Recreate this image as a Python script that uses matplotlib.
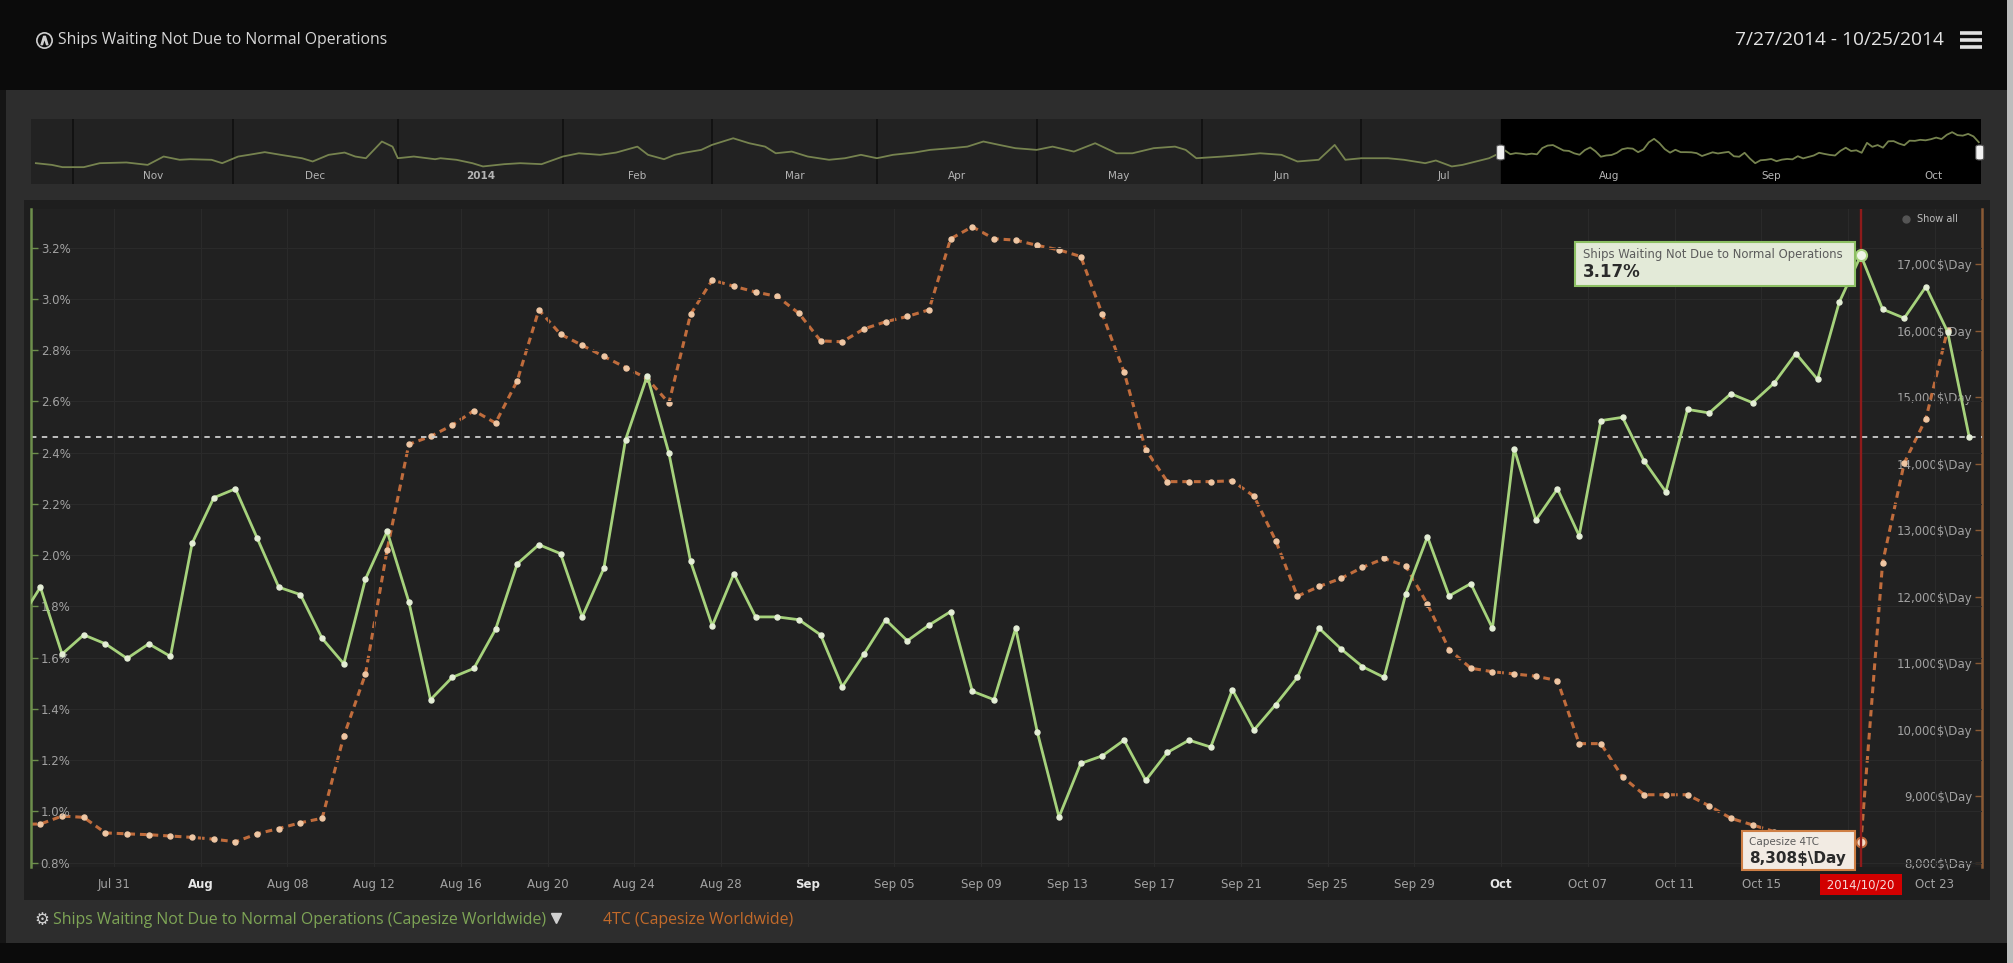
import numpy as np
import pandas as pd
import matplotlib
matplotlib.use("Agg")
import matplotlib.pyplot as plt
import matplotlib.dates as mdates
from matplotlib.patches import Rectangle, FancyBboxPatch
from matplotlib.lines import Line2D
from matplotlib import transforms

W, H = 2013, 963

# ---- values ----
dates = pd.date_range("2014-07-27", "2014-10-25", freq="D")

# Ships Waiting Not Due to Normal Operations (Capesize Worldwide), %
waiting_pct = [
    1.74,
    1.875, 1.614, 1.689, 1.654, 1.597, 1.654, 1.605,
    2.046, 2.224, 2.259, 2.067, 1.875, 1.846, 1.675,
    1.576, 1.907, 2.093, 1.818, 1.436, 1.523, 1.558,
    1.710, 1.966, 2.041, 2.006, 1.759, 1.949, 2.451,
    2.700, 2.398, 1.976, 1.724, 1.928, 1.759, 1.759,
    1.748, 1.689, 1.487, 1.614, 1.748, 1.666, 1.727,
    1.780, 1.469, 1.436, 1.715, 1.309, 0.978, 1.187,
    1.217, 1.278, 1.121, 1.230, 1.278, 1.251, 1.475,
    1.318, 1.417, 1.523, 1.715, 1.635, 1.565, 1.523,
    1.849, 2.072, 1.841, 1.889, 1.715, 2.416, 2.137,
    2.259, 2.076, 2.525, 2.538, 2.367, 2.247, 2.569,
    2.555, 2.630, 2.595, 2.672, 2.787, 2.686, 2.987,
    3.17, 2.960, 2.925, 3.048, 2.872, 2.46,
]

# 4TC (Capesize Worldwide), $/day
capesize_4tc = [
    8580,
    8581, 8702, 8682, 8448, 8434, 8421, 8401,
    8381, 8354, 8314, 8434, 8514, 8601, 8668,
    9904, 10840, 12710, 14294, 14414, 14581, 14802,
    14615, 15249, 16318, 15951, 15784, 15617, 15450,
    15283, 14915, 16251, 16766, 16672, 16586, 16519,
    16265, 15851, 15837, 16031, 16138, 16218, 16318,
    17387, 17568, 17387, 17367, 17287, 17220, 17120,
    16251, 15383, 14214, 13733, 13733, 13733, 13746,
    13512, 12844, 12009, 12156, 12276, 12443, 12577,
    12463, 11889, 11207, 10926, 10873, 10840, 10806,
    10739, 9791, 9791, 9290, 9022, 9022, 9022,
    8855, 8668, 8568, 8468, 8401, 8334, 8301,
    8308, 12510, 14013, 14681, 16018, np.nan,
]

# navigator (one year of the % series, before the selected window)
nav_start = pd.Timestamp("2013-10-25")
nav_days = [0, 3, 5, 9, 12, 17, 21, 24, 27, 29, 33, 35, 38, 40, 43, 46, 50, 52,
            55, 58, 60, 62, 65, 67, 68, 71, 75, 76, 79, 82, 84, 88, 91, 95, 99,
            102, 106, 109, 113, 115, 118, 120, 122, 125, 127, 131, 134, 137, 139,
            142, 145, 149, 152, 155, 158, 161, 165, 168, 172, 175, 178, 181, 184,
            188, 191, 195, 199, 203, 206, 210, 214, 216, 218, 223, 227, 230, 234,
            237, 241, 244, 246, 249, 254, 257, 261, 263, 266, 268, 273]
nav_pct = [0.98, 0.86, 0.70, 0.70, 0.98, 1.03, 0.86, 1.45, 1.22, 1.26, 1.22, 0.98,
           1.45, 1.57, 1.76, 1.57, 1.33, 1.10, 1.57, 1.73, 1.45, 1.33, 2.51, 2.15,
           1.33, 1.45, 1.26, 1.33, 1.22, 0.98, 0.75, 0.91, 0.98, 0.91, 1.45, 1.68,
           1.57, 1.73, 2.15, 1.57, 1.26, 1.57, 1.73, 1.92, 2.27, 2.74, 2.39, 2.15,
           1.68, 1.80, 1.45, 1.22, 1.33, 1.57, 1.33, 1.57, 1.73, 1.92, 2.04, 2.15,
           2.51, 2.27, 2.04, 1.92, 2.15, 1.80, 2.39, 1.68, 1.68, 2.04, 2.15, 1.92,
           1.33, 1.45, 1.57, 1.68, 1.57, 1.10, 1.22, 2.27, 1.22, 1.33, 1.33, 1.22,
           0.98, 1.17, 0.75, 0.86, 1.33]
nav_months = pd.date_range("2013-11-01", "2014-10-01", freq="MS")
nav_labels = ["Nov", "Dec", "2014", "Feb", "Mar", "Apr", "May", "Jun", "Jul",
              "Aug", "Sep", "Oct"]

x_ticks = pd.date_range("2014-07-31", "2014-10-23", freq="4D")
# the Oct 19 label sits under the crosshair date box, so it is left blank
x_labels = ["Jul 31", "Aug", "Aug 08", "Aug 12", "Aug 16", "Aug 20", "Aug 24",
            "Aug 28", "Sep", "Sep 05", "Sep 09", "Sep 13", "Sep 17", "Sep 21",
            "Sep 25", "Sep 29", "Oct", "Oct 07", "Oct 11", "Oct 15", "",
            "Oct 23"]
bold_labels = ["Aug", "Sep", "Oct"]
pct_ticks = [0.8, 1.0, 1.2, 1.4, 1.6, 1.8, 2.0, 2.2, 2.4, 2.6, 2.8, 3.0, 3.2]
usd_ticks = [8000, 9000, 10000, 11000, 12000, 13000, 14000, 15000, 16000, 17000]

sel_day = pd.Timestamp("2014-10-20")
view_from = pd.Timestamp("2014-07-27 04:00")
view_to = pd.Timestamp("2014-10-25 04:30")

GREEN = "#a6d27c"
GREEN_DOT = "#e4eed6"
ORANGE = "#c06c3c"
ORANGE_DOT = "#efc7a4"
LABEL = "#a2a2a2"


def frect(x0, y0, x1, y1):
    # pixel box (top-left origin) -> figure fraction
    return [x0 / W, 1 - y1 / H, (x1 - x0) / W, (y1 - y0) / H]


def band(x0, y0, x1, y1, color, z=-5):
    fig.add_artist(Rectangle((x0 / W, 1 - y1 / H), (x1 - x0) / W, (y1 - y0) / H,
                             transform=fig.transFigure, color=color, lw=0, zorder=z))


fig = plt.figure(figsize=(W / 100, H / 100), dpi=100, facecolor="#2d2d2d")
band(0, 0, W, 90, "#0b0b0b")
band(0, 943, W, H, "#0b0b0b")
band(0, 90, 6, 943, "#151515")
band(24, 200, 1990, 900, "#1e1e1e")
band(2007, 0, W, H, "#bdbdbd")

# header
fig.add_artist(Line2D([44 / W], [1 - 40 / H], marker="o", ms=11, mfc="none",
                      mec="#cfcfcf", mew=1.2, transform=fig.transFigure))
fig.add_artist(Line2D([44 / W], [1 - 40 / H], marker=r"$\wedge$", ms=6,
                      color="#cfcfcf", transform=fig.transFigure))
fig.text(58 / W, 1 - 40 / H, "Ships Waiting Not Due to Normal Operations",
         family="Open Sans", size=11.3, color="#d6d6d6", va="center")
fig.text(1944 / W, 1 - 40 / H, "7/27/2014 - 10/25/2014", family="Open Sans",
         size=13.8, color="#e2e2e2", va="center", ha="right")
for yy in (33, 40, 47):
    fig.add_artist(Line2D([1960 / W, 1982 / W], [1 - yy / H] * 2, lw=2.6,
                          color="#e0e0e0", solid_capstyle="butt",
                          transform=fig.transFigure))

# ---- navigator ----
nav = fig.add_axes(frect(31, 119, 1981, 184))
nav.set_facecolor("#222222")
nav_x = list(nav_start + pd.to_timedelta(nav_days, unit="D")) + list(dates[1:])
nav_y = nav_pct + waiting_pct[1:]
nav.axvspan(view_from, view_to, color="#000000", zorder=0.5)
for m in nav_months:
    nav.axvline(m, color="#111111", lw=1.3, zorder=0.4)
nav.plot(nav_x, nav_y, color="#76834f", lw=1.3, zorder=2)
nav.set_xlim(pd.Timestamp("2013-10-24 02:00"), pd.Timestamp("2014-10-25 10:00"))
nav.set_ylim(-0.49, 4.1)
nav.set_xticks([])
nav.set_yticks([])
for s in nav.spines.values():
    s.set_visible(False)
nav_tr = transforms.blended_transform_factory(nav.transData, nav.transAxes)
for m, lab in zip(nav_months, nav_labels):
    mid = m + pd.Timedelta(days=m.days_in_month / 2)
    nav.text(mid, 0.13, lab, transform=nav_tr, ha="center", va="center",
             size=7.5, color="#b4b4b4", weight="bold" if lab == "2014" else "normal")
for d in (view_from, view_to):
    px, py = nav.transData.transform((mdates.date2num(d), 0))
    fig.add_artist(FancyBboxPatch(((px - 4) / W, 1 - 160 / H), 8 / W, 15 / H,
                                  boxstyle="round,pad=0,rounding_size=0.002",
                                  fc="#f2f2f2", ec="#555555", lw=0.8,
                                  transform=fig.transFigure, zorder=4))

# ---- main chart ----
ax = fig.add_axes(frect(31, 209, 1982, 867))
ax2 = ax.twinx()
ax.set_zorder(ax2.get_zorder() + 1)
ax.patch.set_visible(False)
ax2.patch.set_visible(True)
ax2.set_facecolor("#212121")

# points sit a little left of the day ticks in the original (time zone shift)
xs = dates - pd.Timedelta(hours=9.6)
i_sel = list(dates).index(sel_day)
x_sel = xs[i_sel]

ax2.plot(xs, capesize_4tc, color=ORANGE, lw=2.2, ls=(0, (2.2, 1.6)),
         marker="o", ms=3.6, mfc=ORANGE_DOT, mec=ORANGE_DOT, zorder=3)
ax2.plot([x_sel], [capesize_4tc[i_sel]], "o", ms=7, mfc="#f6dcc6", mec=ORANGE,
         mew=1.4, zorder=5)

ax.axhline(waiting_pct[-1], color="#cccccc", lw=1.3, ls=(0, (3, 3)), zorder=2)
ax.axvline(x_sel, color="#8e1b1b", lw=1.7, zorder=3)
ax.plot(xs, waiting_pct, color=GREEN, lw=2.0, marker="o", ms=3.6,
        mfc=GREEN_DOT, mec=GREEN_DOT, zorder=4)
ax.plot([x_sel], [waiting_pct[i_sel]], "o", ms=8, mfc="#eef4e6", mec=GREEN,
        mew=1.5, zorder=6)

ax.set_xlim(view_from, view_to)
ax.set_ylim(0.783, 3.351)
ax2.set_ylim(7935, 17835)

ax.set_axisbelow(True)
ax.grid(True, color="#2a2a2a", lw=0.8)

ax.set_xticks(x_ticks)
ax.set_xticklabels(x_labels)
ax.tick_params(axis="x", length=0, pad=8, labelsize=8.5, labelcolor=LABEL)
for lab in ax.get_xticklabels():
    if lab.get_text() in bold_labels:
        lab.set_fontweight("bold")
        lab.set_color("#e6e6e6")

ax.set_yticks(pct_ticks)
ax.set_yticklabels([f"{v:.1f}%" for v in pct_ticks])
ax.tick_params(axis="y", direction="in", length=5, width=1, color="#6d8f4c",
               pad=-7, labelsize=8.5, labelcolor=LABEL)
for lab in ax.get_yticklabels():
    lab.set_horizontalalignment("left")

ax2.set_yticks(usd_ticks)
ax2.set_yticklabels([f"{v:,}\\$\\Day" for v in usd_ticks])
ax2.tick_params(axis="y", direction="in", length=5, width=1, color="#8a5a35",
                pad=-7, labelsize=8.5, labelcolor=LABEL)
for lab in ax2.get_yticklabels():
    lab.set_horizontalalignment("right")

for s in ("top", "bottom", "right"):
    ax.spines[s].set_visible(False)
for s in ("top", "bottom", "left"):
    ax2.spines[s].set_visible(False)
ax.spines["left"].set_color("#6d8f4c")
ax.spines["left"].set_linewidth(1.8)
ax2.spines["right"].set_color("#8a5a35")
ax2.spines["right"].set_linewidth(1.8)

# "Show all"
fig.add_artist(Line2D([1906 / W], [1 - 219 / H], marker="o", ms=5, color="#555555",
                      transform=fig.transFigure))
fig.text(1917 / W, 1 - 219.5 / H, "Show all", size=7, color="#bdbdbd", va="center")

# tooltips anchored at the highlighted points
gx, gy = ax.transData.transform((mdates.date2num(x_sel), waiting_pct[i_sel]))
bw, bh = 280, 44
x0, top = gx - 6 - bw, gy + 13
fig.add_artist(Rectangle((x0 / W, (top - bh) / H), bw / W, bh / H,
                         transform=fig.transFigure, fc="#e3ead8", ec="#8cbf63",
                         lw=1.5, zorder=5))
fig.text((x0 + 8) / W, (top - 12) / H, "Ships Waiting Not Due to Normal Operations",
         size=8.4, color="#5c5c5c", va="center", zorder=6)
fig.text((x0 + 8) / W, (top - 30) / H, f"{waiting_pct[i_sel]:.2f}%", size=12,
         weight="bold", color="#2a2a2a", va="center", zorder=6)

ox, oy = ax2.transData.transform((mdates.date2num(x_sel), capesize_4tc[i_sel]))
bw, bh = 113, 39
x0, top = ox - 6 - bw, oy + 11
fig.add_artist(Rectangle((x0 / W, (top - bh) / H), bw / W, bh / H,
                         transform=fig.transFigure, fc="#f2ebe3", ec="#cf7f45",
                         lw=1.5, zorder=5))
fig.text((x0 + 7) / W, (top - 11) / H, "Capesize 4TC", size=7.5, color="#5c5c5c",
         va="center", zorder=6)
fig.text((x0 + 7) / W, (top - 27) / H, f"{capesize_4tc[i_sel]:,.0f}\\$\\Day",
         size=11, weight="bold", color="#2a2a2a", va="center", zorder=6)

# crosshair date label
fig.text(gx / W, 1 - 884.5 / H, " " + sel_day.strftime("%Y/%m/%d") + " ",
         size=8.5, color="#f6d8d8", ha="center", va="center", zorder=6,
         bbox=dict(boxstyle="square,pad=0.3", fc="#d20000", ec="none"))

# legend row
fig.text(42 / W, 1 - 920 / H, "\u2699", size=12, color="#d0d0d0",
         ha="center", va="center")
fig.text(53 / W, 1 - 920 / H,
         "Ships Waiting Not Due to Normal Operations (Capesize Worldwide)",
         family="Open Sans", size=11.4, color="#7ea556", va="center")
fig.add_artist(Line2D([556 / W], [1 - 918 / H], marker="v", ms=7, color="#d0d0d0",
                      transform=fig.transFigure))
fig.text(603 / W, 1 - 920 / H, "4TC (Capesize Worldwide)", family="Open Sans",
         size=11.4, color="#c26a2a", va="center")

fig.savefig("out.png", dpi=100, facecolor=fig.get_facecolor())
